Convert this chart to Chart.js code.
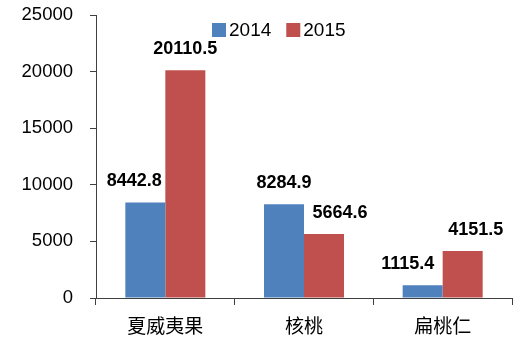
<!DOCTYPE html>
<html>
<head>
<meta charset="utf-8">
<script src="https://cdn.jsdelivr.net/npm/chart.js@4"></script>
<style>
html,body{margin:0;padding:0;background:#fff;}
#wrap{position:relative;width:530px;height:340px;}
</style>
</head>
<body>
<div id="wrap"><canvas id="c" width="530" height="340"></canvas></div>
<script>
const categories = ['夏威夷果', '核桃', '扁桃仁'];
const seriesNames = ['2014', '2015'];
const values2014 = [8442.8, 8284.9, 1115.4];
const values2015 = [20110.5, 5664.6, 4151.5];
const yTicks = [0, 5000, 10000, 15000, 20000, 25000];

const colors = ['#4F81BD', '#C0504D'];
const labelShift = [[-11, 0, -15], [0, 16, 13]];
const LATIN = '"Liberation Sans", Arial, sans-serif';

const dataLabels = {
  id: 'dataLabels',
  afterDatasetsDraw(chart) {
    const ctx = chart.ctx;
    ctx.save();
    ctx.font = 'bold 18px ' + LATIN;
    ctx.fillStyle = '#000';
    ctx.textAlign = 'center';
    ctx.textBaseline = 'middle';
    chart.data.datasets.forEach((ds, di) => {
      chart.getDatasetMeta(di).data.forEach((bar, i) => {
        ctx.fillText(String(ds.data[i]), bar.x + labelShift[di][i], bar.y - 21);
      });
    });
    ctx.restore();
  }
};

const customLegend = {
  id: 'customLegend',
  afterDraw(chart) {
    const ctx = chart.ctx;
    ctx.save();
    ctx.font = '19px ' + LATIN;
    ctx.textBaseline = 'middle';
    ctx.textAlign = 'left';
    let x = 212;
    const y = 30;
    chart.data.datasets.forEach(ds => {
      ctx.fillStyle = ds.backgroundColor;
      ctx.fillRect(x, y - 7, 14, 14);
      ctx.fillStyle = '#000';
      ctx.fillText(ds.label, x + 17, y + 1);
      x += 17 + ctx.measureText(ds.label).width + 15;
    });
    ctx.restore();
  }
};

new Chart(document.getElementById('c'), {
  type: 'bar',
  data: {
    labels: categories,
    datasets: [
      { label: seriesNames[0], data: values2014, backgroundColor: colors[0] },
      { label: seriesNames[1], data: values2015, backgroundColor: colors[1] }
    ]
  },
  options: {
    responsive: false,
    animation: false,
    devicePixelRatio: 1,
    layout: { padding: { top: 15, right: 18, left: 0, bottom: 0 } },
    plugins: { legend: { display: false }, tooltip: { enabled: false } },
    datasets: { bar: { categoryPercentage: 0.577, barPercentage: 1.0, borderWidth: 0 } },
    scales: {
      x: {
        grid: { offset: true, drawOnChartArea: false, drawTicks: true, tickLength: 7, color: '#404040' },
        border: { display: true, color: '#404040', width: 1 },
        ticks: { color: '#000', font: { family: '"Noto Sans CJK SC", sans-serif', size: 19 }, padding: 9 },
        afterFit(s) { s.height = 42; s.paddingLeft = 0; s.paddingRight = 0; }
      },
      y: {
        min: 0, max: 25000,
        afterBuildTicks(s) { s.ticks = yTicks.map(v => ({ value: v })); },
        grid: { drawOnChartArea: false, drawTicks: true, tickLength: 6, color: '#404040' },
        border: { display: true, color: '#404040', width: 1 },
        ticks: { color: '#000', font: { family: LATIN, size: 18.5 }, padding: 17, callback: v => String(v) },
        afterFit(s) { s.width = 96; s.paddingTop = 0; s.paddingBottom = 0; }
      }
    }
  },
  plugins: [dataLabels, customLegend]
});
</script>
</body>
</html>
